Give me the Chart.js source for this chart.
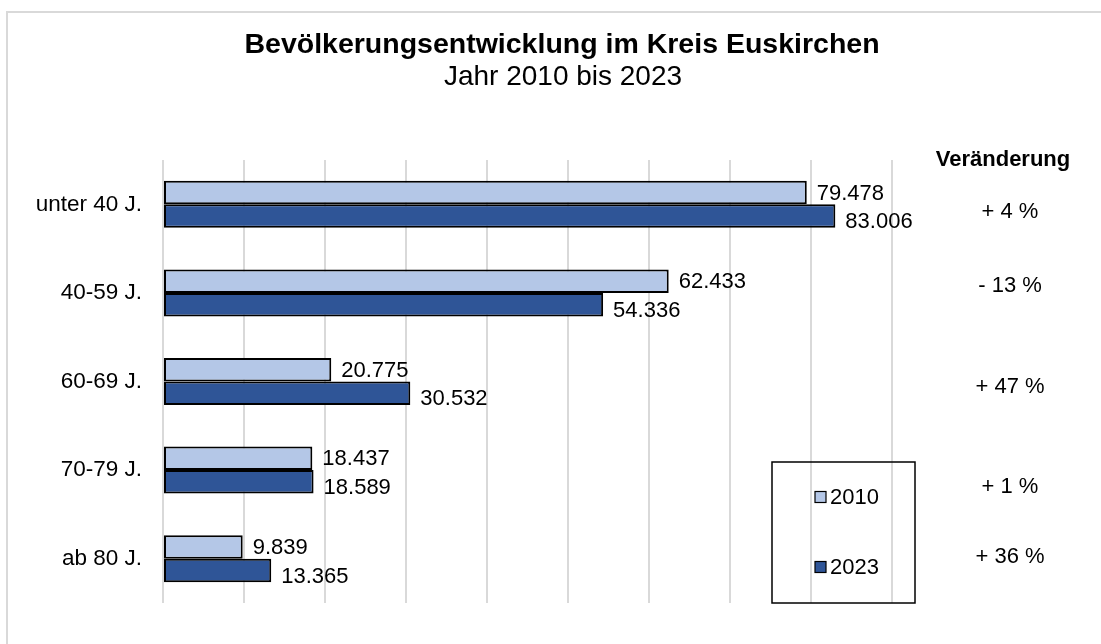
<!DOCTYPE html>
<html lang="de">
<head>
<meta charset="utf-8">
<title>Bevölkerungsentwicklung im Kreis Euskirchen</title>
<script src="https://cdn.jsdelivr.net/npm/chart.js@4.4.1/dist/chart.umd.min.js"></script>
<style>
  html, body { margin: 0; padding: 0; background: #fff; }
  #wrap { position: relative; width: 1101px; height: 644px; }
</style>
</head>
<body>
<div id="wrap"><canvas id="mainChart"></canvas></div>
<script>
// Data
const categories = ['unter 40 J.', '40-59 J.', '60-69 J.', '70-79 J.', 'ab 80 J.'];
const years = ['2010', '2023'];
const values2010 = [79478, 62433, 20775, 18437, 9839];
const values2023 = [83006, 54336, 30532, 18589, 13365];
const changeLabels = ['+ 4 %', '- 13 %', '+ 47 %', '+ 1 %', '+ 36 %'];
const changeHeader = 'Veränderung';
const titleText = 'Bevölkerungsentwicklung im Kreis Euskirchen';
const subtitleText = 'Jahr 2010 bis 2023';

// Styling
const FONT = '"Liberation Sans", Arial, sans-serif';
const colorLight = '#B4C7E7';
const colorDark = '#2F5597';
const gridColor = '#d9d9d9';
// the change texts are free text boxes in the original, not exactly on the category centers
const changeOffsets = [8, -7, 5, 17, -2];

const formatNumber = (val) => String(val).replace(/\B(?=(\d{3})+(?!\d))/g, '.');

// Frame, title, data labels, change column, legend box
const decorations = {
  id: 'decorations',
  beforeDraw(chart) {
    const { ctx, width, height } = chart;
    ctx.save();
    ctx.fillStyle = '#fff';
    ctx.fillRect(0, 0, width, height);
    ctx.strokeStyle = gridColor;
    ctx.lineWidth = 2;
    ctx.beginPath();
    ctx.moveTo(7, height + 2);
    ctx.lineTo(7, 12);
    ctx.lineTo(width + 2, 12);
    ctx.stroke();
    ctx.restore();
  },
  afterDraw(chart) {
    const { ctx, chartArea } = chart;
    const yScale = chart.scales.y;
    ctx.save();
    ctx.fillStyle = '#000';
    ctx.textBaseline = 'middle';

    // title
    ctx.textAlign = 'center';
    ctx.font = 'bold 28.5px ' + FONT;
    ctx.fillText(titleText, 562, 45);
    ctx.font = '28px ' + FONT;
    ctx.fillText(subtitleText, 563, 77);

    // value labels
    ctx.textAlign = 'left';
    ctx.font = '22px ' + FONT;
    chart.data.datasets.forEach((ds, di) => {
      const meta = chart.getDatasetMeta(di);
      meta.data.forEach((bar, i) => {
        ctx.fillText(formatNumber(ds.data[i]), bar.x + 10, bar.y + (di === 0 ? 1 : 6));
      });
    });

    // change column
    ctx.textAlign = 'center';
    ctx.font = 'bold 22px ' + FONT;
    ctx.fillText(changeHeader, 1003, 160);
    ctx.font = '22px ' + FONT;
    changeLabels.forEach((txt, i) => {
      ctx.fillText(txt, 1010, yScale.getPixelForValue(i) + changeOffsets[i]);
    });

    // legend box
    const bx = chartArea.right - 120, by = chartArea.bottom - 141;
    const bw = 143, bh = 141;
    ctx.strokeStyle = '#000';
    ctx.lineWidth = 1.5;
    ctx.strokeRect(bx, by, bw, bh);
    chart.data.datasets.forEach((ds, di) => {
      const cy = by + 35 + di * 70;
      ctx.fillStyle = ds.backgroundColor;
      ctx.fillRect(bx + 43, cy - 5.5, 11, 11);
      ctx.lineWidth = 1.2;
      ctx.strokeRect(bx + 43, cy - 5.5, 11, 11);
      ctx.fillStyle = '#000';
      ctx.textAlign = 'left';
      ctx.fillText(ds.label, bx + 58, cy + 1);
    });
    ctx.restore();
  }
};

const ctx = document.getElementById('mainChart').getContext('2d');
new Chart(ctx, {
  type: 'bar',
  data: {
    labels: categories,
    datasets: [
      {
        label: years[0],
        data: values2010,
        backgroundColor: colorLight,
        borderColor: '#000',
        borderWidth: 2,
        borderSkipped: false
      },
      {
        label: years[1],
        data: values2023,
        backgroundColor: colorDark,
        borderColor: '#000',
        borderWidth: 2,
        borderSkipped: false
      }
    ]
  },
  options: {
    indexAxis: 'y',
    responsive: true,
    maintainAspectRatio: false,
    animation: false,
    datasets: { bar: { categoryPercentage: 0.53, barPercentage: 1 } },
    layout: { padding: { top: 160, right: 209, bottom: 41, left: 0 } },
    plugins: {
      legend: { display: false },
      title: { display: false },
      tooltip: { enabled: false }
    },
    scales: {
      x: {
        min: 0,
        max: 90000,
        ticks: { display: false, stepSize: 10000 },
        grid: { color: gridColor, lineWidth: 2, drawTicks: false },
        border: { display: false }
      },
      y: {
        grid: { display: false },
        border: { display: false },
        ticks: { color: '#000', font: { family: FONT, size: 22.5 }, padding: 13 },
        afterFit(scale) { scale.width = 163; }
      }
    }
  },
  plugins: [decorations]
});
</script>
</body>
</html>
